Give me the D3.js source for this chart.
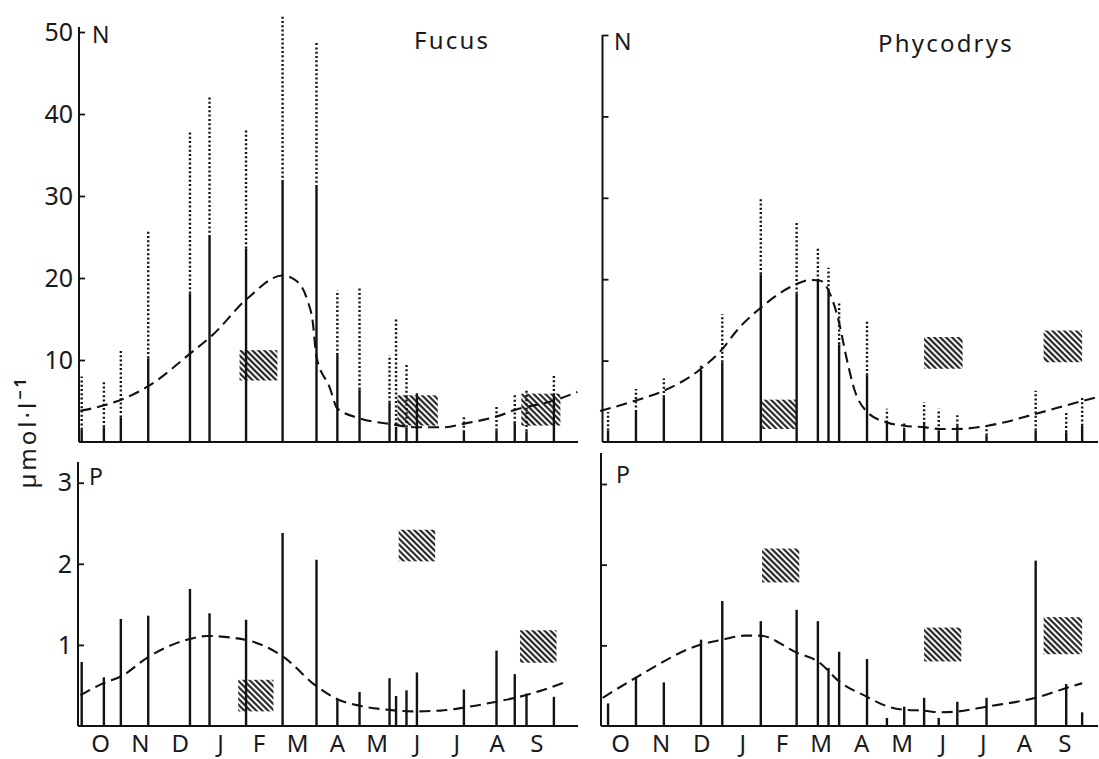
<!DOCTYPE html>
<html><head><meta charset="utf-8">
<script src="https://cdn.jsdelivr.net/npm/d3@7"></script>
<style>
html,body{margin:0;padding:0;background:#fff;}
svg text{font-family:"Noto Sans","DejaVu Sans",sans-serif;fill:#1a1a1a;}
</style></head>
<body>
<svg id="chart" width="1099" height="759"></svg>
<script>
// ---------- data ----------
const months = ["O","N","D","J","F","M","A","M","J","J","A","S"];
const monthLengths = [31,30,31,31,28,31,30,31,30,31,31,30];
const nTicks = [10,20,30,40,50];
const nTickLabels = ["10","20","30","40","50"];
const pTicks = [1,2,3];
const pTickLabels = ["1","2","3"];
const unitLabel = "µmol·l";

// Fucus (days since 1 Oct)
const fucusDays   = [1,18,31,52,84,99,127,155,181,197,214,237,242,250,258,294,319,333,342,363];
const fucusNSolid = [1.5,1.8,3.0,10.2,18.1,25.0,23.6,31.7,31.1,10.6,6.4,4.8,1.6,1.8,5.7,1.2,1.4,2.3,1.3,5.7];
const fucusNDot   = [8.0,7.5,11.4,25.8,38.0,42.1,38.0,52.0,48.8,18.5,18.9,10.6,15.2,9.6,6.1,3.1,4.4,5.9,6.5,8.3];
const fucusP      = [0.79,0.60,1.32,1.36,1.69,1.39,1.31,2.38,2.05,0.33,0.42,0.59,0.37,0.44,0.66,0.45,0.93,0.64,0.40,0.36];
const fucusNCurveDays = [0,19,32,53,85,101,128,155,166,174,178,181,191,197,214,237,258,278,296,319,333,364,381];
const fucusNCurve     = [3.8,4.5,5.2,6.9,10.9,13.0,17.5,20.3,19.6,17.3,14.8,10.4,6.7,4.1,2.9,2.2,1.8,1.8,2.3,3.1,3.9,5.1,6.1];
const fucusPCurveDays = [0,18,31,52,83,97,127,155,181,197,214,236,254,276,295,319,334,352,370];
const fucusPCurve     = [0.38,0.53,0.61,0.85,1.07,1.11,1.06,0.86,0.49,0.33,0.25,0.20,0.18,0.19,0.23,0.30,0.35,0.43,0.53];
const fucusNBoxes = [[122,151,7.5,11.2],[243,274,2.0,5.7],[338,368,2.0,5.9]];
const fucusPBoxes = [[121,148,0.18,0.57],[244,272,2.03,2.42],[337,365,0.78,1.18]];

// Phycodrys
const phycoDays   = [6,27,48,76,92,121,148,164,172,180,201,216,229,244,255,269,291,328,351,363];
const phycoNSolid = [1.4,3.7,5.5,8.6,9.8,20.6,18.2,19.8,18.6,12.0,8.2,2.4,1.5,2.2,1.4,2.0,0.8,1.4,1.2,2.0];
const phycoNDot   = [3.7,6.5,7.8,9.4,15.7,30.0,27.1,23.9,21.4,17.3,14.9,4.1,2.5,4.9,4.1,3.3,2.0,6.3,3.7,5.7];
const phycoP      = [0.28,0.61,0.54,1.07,1.55,1.30,1.44,1.30,0.72,0.92,0.83,0.10,0.24,0.35,0.10,0.30,0.35,2.05,0.52,0.17];
const phycoNCurveDays = [0,27,48,76,93,103,121,148,158,166,172,179,186,191,201,216,229,245,256,269,292,329,351,374];
const phycoNCurve     = [3.8,5.1,6.3,9.0,11.6,13.7,16.5,19.4,19.9,19.8,18.6,15.3,10.0,6.7,3.7,2.4,2.0,1.8,1.6,1.6,2.0,3.5,4.5,5.5];
const phycoPCurveDays = [2,27,76,92,109,120,148,164,181,200,217,230,244,256,269,291,328,351,363];
const phycoPCurve     = [0.35,0.60,1.01,1.07,1.12,1.12,0.91,0.80,0.54,0.37,0.24,0.20,0.19,0.17,0.18,0.24,0.35,0.47,0.53];
const phycoNBoxes = [[122,148,1.6,5.2],[244,273,9.0,12.9],[334,363,9.8,13.7]];
const phycoPBoxes = [[122,150,1.78,2.2],[244,272,0.8,1.22],[334,363,0.89,1.35]];

// ---------- drawing ----------
const svg = d3.select("#chart");
const ink = "#121212";
const defs = svg.append("defs");
const pat = defs.append("pattern").attr("id","hatch").attr("patternUnits","userSpaceOnUse")
  .attr("width",4.2).attr("height",4.2).attr("patternTransform","rotate(-45)");
pat.append("line").attr("x1",2.1).attr("y1",0).attr("x2",2.1).attr("y2",4.2)
  .attr("stroke",ink).attr("stroke-width",2);

const monthMid = [];
{ let c = 0; monthLengths.forEach(l => { monthMid.push(c + l/2); c += l; }); }

const xLeft  = d3.scaleLinear().domain([0,365]).range([80.4,556.5]);
const xRight = d3.scaleLinear().domain([0,365]).range([600.1,1084.8]);
const yNL = d3.scaleLinear().domain([0,50]).range([442,32]);
const yNR = d3.scaleLinear().domain([0,50]).range([442,35]);
const yPL = d3.scaleLinear().domain([0,3]).range([726,482.7]);
const yPR = d3.scaleLinear().domain([0,3]).range([726,484]);

function panel(opt){
  const g = svg.append("g");
  const {x, y, axisX, axisTop, xEnd} = opt;
  // boxes
  g.selectAll("rect.box").data(opt.boxes).enter().append("rect")
    .attr("x", d => x(d[0])).attr("width", d => x(d[1]) - x(d[0]))
    .attr("y", d => y(d[3])).attr("height", d => y(d[2]) - y(d[3]))
    .attr("fill","url(#hatch)");
  // axes
  g.append("line").attr("x1",axisX).attr("x2",axisX).attr("y1",axisTop).attr("y2",y(0))
    .attr("stroke",ink).attr("stroke-width",2);
  g.append("line").attr("x1",axisX).attr("x2",xEnd).attr("y1",y(0)).attr("y2",y(0))
    .attr("stroke",ink).attr("stroke-width",2.2);
  const axis = d3.axisRight(y).tickValues(opt.ticks).tickSize(6).tickFormat("");
  const ag = g.append("g").attr("transform",`translate(${axisX},0)`).call(axis);
  ag.select(".domain").remove();
  ag.selectAll(".tick line").attr("stroke",ink).attr("stroke-width",1.8);
  if (opt.tickLabels){
    g.selectAll("text.tl").data(opt.ticks).enter().append("text")
      .attr("x", axisX - 6).attr("y", d => y(d) + 2)
      .attr("text-anchor","end").attr("dominant-baseline","middle")
      .attr("font-size",25).text((d,i) => opt.tickLabels[i]);
  }
  // bars
  const bars = opt.days.map((d,i) => ({d, s: opt.solid[i], t: opt.dot ? opt.dot[i] : null}));
  g.selectAll("line.sol").data(bars).enter().append("line")
    .attr("x1", b => x(b.d)).attr("x2", b => x(b.d))
    .attr("y1", y(0)).attr("y2", b => y(b.s))
    .attr("stroke",ink).attr("stroke-width",2.4);
  if (opt.dot){
    g.selectAll("line.dot").data(bars.filter(b => b.t > b.s)).enter().append("line")
      .attr("x1", b => x(b.d)).attr("x2", b => x(b.d))
      .attr("y1", b => y(b.s)).attr("y2", b => y(b.t))
      .attr("stroke",ink).attr("stroke-width",2.4).attr("stroke-dasharray","2,2.3");
  }
  // curve
  const pts = opt.curveDays.map((d,i) => [x(d), y(opt.curve[i])]);
  g.append("path").attr("d", d3.line().curve(d3.curveMonotoneX)(pts))
    .attr("fill","none").attr("stroke",ink).attr("stroke-width",2.1)
    .attr("stroke-dasharray","11,6");
  // letter
  g.append("text").attr("x", opt.letterX).attr("y", opt.letterY)
    .attr("font-size",23).text(opt.letter);
  if (opt.title){
    g.append("text").attr("x", opt.titleX).attr("y", opt.titleY)
      .attr("font-size",24).attr("letter-spacing",2.2).text(opt.title);
  }
  if (opt.months){
    g.selectAll("text.m").data(months).enter().append("text")
      .attr("x",(m,i) => x(monthMid[i])).attr("y",752)
      .attr("text-anchor","middle").attr("font-size",24).text(m => m);
  }
}

panel({x:xLeft, y:yNL, axisX:79, axisTop:27, xEnd:578, ticks:nTicks, tickLabels:nTickLabels,
  days:fucusDays, solid:fucusNSolid, dot:fucusNDot, curveDays:fucusNCurveDays, curve:fucusNCurve,
  boxes:fucusNBoxes, letter:"N", letterX:92, letterY:43, title:"Fucus", titleX:414, titleY:49});
panel({x:xRight, y:yNR, axisX:602.5, axisTop:35, xEnd:1098, ticks:nTicks,
  days:phycoDays, solid:phycoNSolid, dot:phycoNDot, curveDays:phycoNCurveDays, curve:phycoNCurve,
  boxes:phycoNBoxes, letter:"N", letterX:614, letterY:50, title:"Phycodrys", titleX:878, titleY:52});
panel({x:xLeft, y:yPL, axisX:78, axisTop:462, xEnd:578, ticks:pTicks, tickLabels:pTickLabels,
  days:fucusDays, solid:fucusP, curveDays:fucusPCurveDays, curve:fucusPCurve,
  boxes:fucusPBoxes, letter:"P", letterX:89, letterY:485, months:true});
panel({x:xRight, y:yPR, axisX:601, axisTop:453, xEnd:1098, ticks:pTicks,
  days:phycoDays, solid:phycoP, curveDays:phycoPCurveDays, curve:phycoPCurve,
  boxes:phycoPBoxes, letter:"P", letterX:616, letterY:483, months:true});

// unit label
const ul = svg.append("text").attr("transform","translate(36,432) rotate(-90)")
  .attr("text-anchor","middle").attr("font-size",24).attr("letter-spacing",3);
ul.append("tspan").text(unitLabel);
ul.append("tspan").attr("dy",-10).attr("font-size",16).attr("font-weight","bold").text("−1");
</script>
</body></html>
